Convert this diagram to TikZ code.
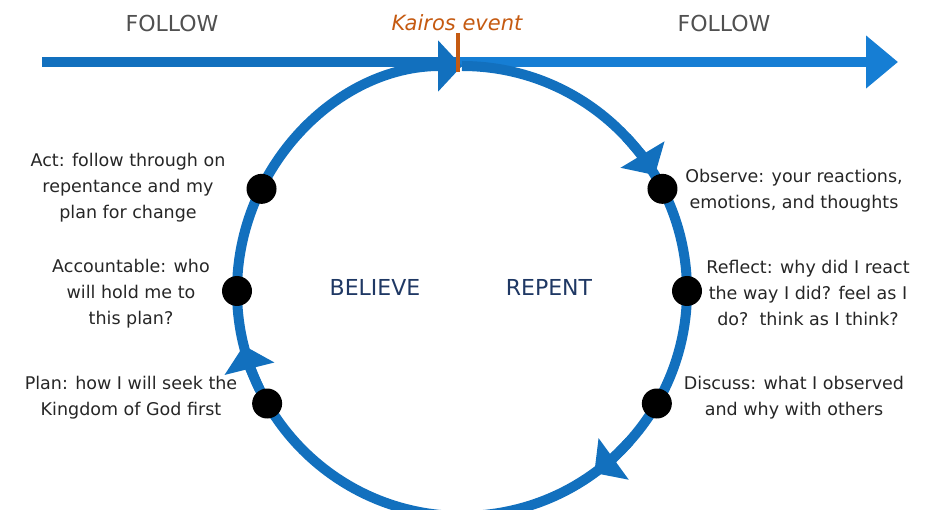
\documentclass[tikz,border=0pt]{standalone}
\usepackage{fontspec}
\setmainfont{DejaVu Sans}
\usetikzlibrary{arrows.meta}
\definecolor{cycleblue}{RGB}{18,112,190}
\definecolor{lineblue}{RGB}{22,126,212}
\definecolor{kairosorange}{RGB}{197,90,17}
\definecolor{wordnavy}{RGB}{31,56,100}
\definecolor{followgray}{RGB}{80,80,80}
\begin{document}
\begin{tikzpicture}[x=1pt,y=1pt,line join=bevel,
  steptext/.style={align=center,font=\fontsize{17.5}{26}\selectfont,text=black!85,inner sep=0pt},
  bigword/.style={font=\fontsize{22}{26}\selectfont,inner sep=0pt},
  stage/.style={circle,fill=black,minimum size=30pt,inner sep=0pt},
  cycletip/.style={-{Triangle[length=24pt,width=50pt]}},
  linetip/.style={-{Triangle[length=32pt,width=51pt]}}]
\useasboundingbox (0,0) rectangle (934,509);
\coordinate (c) at (462,218);
\coordinate (top) at (462,443);
\coordinate (start) at (42,447);
\coordinate (kairos) at (458,447);
\coordinate (finish) at (898,447);
% time line
\draw [line width=10pt,cycleblue] (start) -- (kairos);
\draw [line width=10pt,lineblue,linetip] (kairos) -- (finish);
% cycle
\draw [line width=10pt,cycleblue,cycletip] (top) arc [start angle=90,end angle=-270,radius=225];
\foreach \ang in {31,-54,194}
  \draw [line width=10pt,cycleblue,cycletip] (c) ++(\ang+12:225) arc [start angle=\ang+12,end angle=\ang,radius=225];
\draw [line width=4pt,kairosorange] (458,476) -- (458,437);
% stages
\foreach \nm/\ang in {act/153,acc/180,plan/210,obs/27,refl/0,disc/-30}
  \path (c) ++(\ang:225) node[stage] (\nm) {};
\node[steptext] (actlabel) at (128,321) {Act: follow through on\\repentance and my\\plan for change};
\node[steptext] (acclabel) at (131,215) {Accountable: who\\will hold me to\\this plan?};
\node[steptext] (planlabel) at (131,111) {Plan: how I will seek the\\Kingdom of God first};
\node[steptext] (obslabel) at (794,318) {Observe: your reactions,\\emotions, and thoughts};
\node[steptext] (refllabel) at (808,216) {Reflect: why did I react\\the way I did? feel as I\\do?\ \ think as I think?};
\node[steptext] (disclabel) at (794,111) {Discuss: what I observed\\and why with others};
\node[bigword,text=wordnavy] (believe) at (375,222) {BELIEVE};
\node[bigword,text=wordnavy] (repent) at (549,222) {REPENT};
\node[bigword,text=followgray] (followl) at (172,486) {FOLLOW};
\node[bigword,text=followgray] (followr) at (724,486) {FOLLOW};
\node[bigword,text=kairosorange,font=\fontsize{21}{26}\selectfont\itshape] (kairoslabel) at (457,486) {Kairos event};
\end{tikzpicture}
\end{document}
